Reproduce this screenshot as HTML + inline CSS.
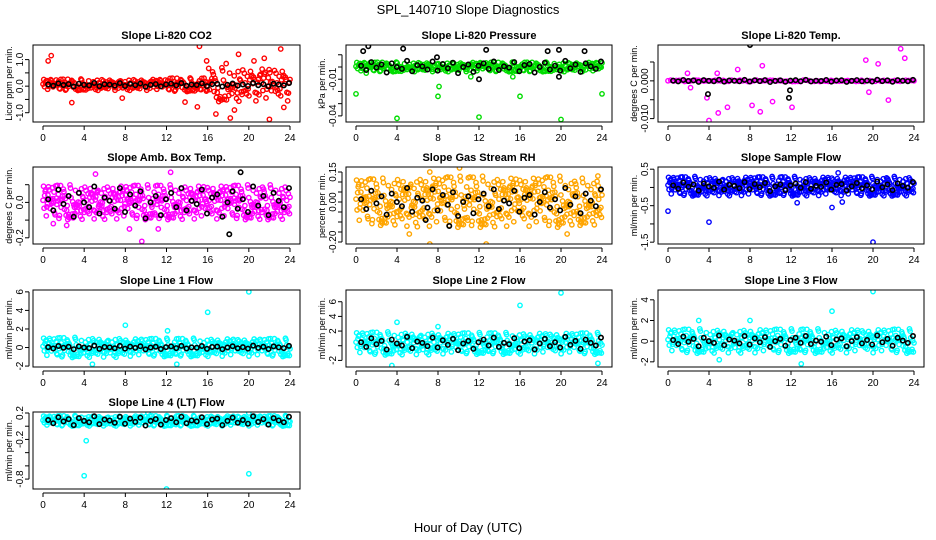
<!DOCTYPE html>
<html><head><meta charset="utf-8"><style>
body{margin:0;background:#fff;}
svg{display:block;font-family:"Liberation Sans",sans-serif;}
</style></head><body>
<svg id="chart" width="936" height="540" viewBox="0 0 936 540" xmlns="http://www.w3.org/2000/svg">
<rect width="936" height="540" fill="#fff"/>
<text x="468" y="14" text-anchor="middle" font-size="13">SPL_140710  Slope Diagnostics</text>
<text x="468" y="532" text-anchor="middle" font-size="13">Hour of Day (UTC)</text>
</svg>
<script>
// ---- data arrays ----
const xTicks = [0,4,8,12,16,20,24];
const panelTitles = ["Slope Li-820 CO2","Slope Li-820 Pressure","Slope Li-820 Temp.","Slope Amb. Box Temp.","Slope Gas Stream RH","Slope Sample Flow","Slope Line 1 Flow","Slope Line 2 Flow","Slope Line 3 Flow","Slope Line 4 (LT) Flow"];
const yLabels = ["Licor ppm per min.","kPa per min.","degrees C per min.","degrees C per min.","percent per min.","ml/min per min.","ml/min per min.","ml/min per min.","ml/min per min.","ml/min per min."];
const colors = ["#ff0000","#00dd00","#ff00ff","#ff00ff","#ffa500","#0000ff","#00ffff","#00ffff","#00ffff","#00ffff"];
const yRanges = [[-1.35,1.55],[-0.045,0.018],[-0.0109,0.0095],[-0.235,0.2],[-0.21,0.175],[-1.55,0.56],[-2.1,6.2],[-2.9,7.6],[-2.5,4.95],[-0.95,0.215]];
const yTickVals = [[-1,-0.5,0,0.5,1],[-0.04,-0.03,-0.02,-0.01,0,0.01],[-0.01,-0.005,0,0.005],[-0.2,-0.1,0,0.1],[-0.2,-0.15,-0.1,-0.05,0,0.05,0.1,0.15],[-1.5,-1,-0.5,0,0.5],[-2,0,2,4,6],[-2,0,2,4,6],[-2,0,2,4],[-0.8,-0.6,-0.4,-0.2,0,0.2]];
const yTickText = [["-1.0","","0.0","","1.0"],["-0.04","","","-0.01","",""],["-0.010","","0.000",""],["-0.2","","0.0",""],["-0.20","","","","0.00","","","0.15"],["-1.5","","-0.5","","0.5"],["-2","0","2","4","6"],["-2","","2","4","6"],["-2","0","2","4"],["-0.8","","","-0.2","","0.2"]];
const centers = [0.05,0,0,0,0,0.03,0,0.3,0,0.08];
// cloud half-width per 4-hour block
const spreads = [
 [0.22,0.22,0.22,0.26,0.65,0.65],[0.004,0.004,0.004,0.004,0.004,0.004],[0.0002,0.0002,0.0002,0.0002,0.0002,0.0002],
 [0.1,0.1,0.1,0.1,0.1,0.1],[0.12,0.13,0.13,0.13,0.13,0.12],[0.27,0.27,0.27,0.27,0.27,0.27],
 [1.1,1.1,1.0,1.0,1.0,1.0],[1.6,1.6,1.5,1.5,1.5,1.5],[1.2,1.2,1.2,1.2,1.2,1.2],[0.08,0.08,0.08,0.08,0.08,0.08]];
const densities = [320,300,90,450,450,450,380,380,380,380];
const blackScale = [0.07,0.005,0.0003,0.09,0.07,0.13,0.2,0.9,0.55,0.07];
const noise = [0.12,-0.45,0.78,-0.9,0.33,0.05,-0.62,0.91,-0.18,0.47,-0.74,0.26,-0.05,0.68,-0.33,-0.97,0.54,0.15,-0.41,0.83,
 -0.22,0.39,-0.81,0.07,0.95,-0.56,0.21,-0.12,0.63,-0.69,0.44,-0.28,0.86,-0.02,-0.51,0.72,-0.88,0.3,0.09,-0.37,
 0.58,-0.15,-0.76,0.99,-0.44,0.18,0.67,-0.6,0.02,-0.25,0.81,-0.93,0.36,0.11,-0.7,0.52,-0.08,0.27,-0.48,0.75,
 -0.31,0.93,-0.19,0.41,-0.84,0.14,0.6,-0.53,0.24,-0.02,0.88,-0.66,0.31,-0.39,0.49,-0.11,-0.79,0.7,0.04,-0.58,
 0.38,-0.23,0.96,-0.47,0.16,-0.87,0.55,0.22,-0.64,0.08,0.77,-0.34,-0.14,0.61,-0.73,0.29,0.45,-0.95,0.19,-0.27];
const blackNoise = [0.2,-0.5,0.8,-0.1,0.4,-0.9,0.6,0.0,-0.3,1.0,-0.7,0.3,0.1,-0.4,0.9,-0.6,0.5,-0.2,0.7,-1.0,
 0.0,0.4,-0.8,0.2,0.6,-0.3,0.9,-0.5,0.1,-0.1,0.8,-0.7,0.3,0.5,-0.9,0.0,0.7,-0.4,0.2,-0.6,1.0,-0.2,0.4,-0.8,0.6,0.1,-0.3,0.9];
const outliers = [
 [[0.5,0.95],[0.8,1.15],[15.2,1.5],[15.9,0.95],[23.1,1.4],[2.8,-0.62],[15,-0.78],[16.8,-1.05],[18.2,-1.2],[22,-1.25],[18.6,-0.9],[23.4,-0.8],[19,1.2],[21.5,1.05],[20.5,0.95],[17.8,0.85],[13.8,-0.6],[7.7,-0.45]],
 [[0,-0.022],[4,-0.042],[8,-0.024],[8.1,-0.016],[12,-0.041],[16,-0.024],[20,-0.043],[24,-0.022],[1,-0.005],[11.2,-0.008],[15.3,-0.008]],
 [[2.2,-0.0018],[3.8,-0.0045],[4,-0.0105],[4.9,-0.0085],[5.8,-0.007],[8.2,-0.0065],[9,-0.0082],[9.2,0.004],[10.2,-0.0055],[12.1,-0.007],[19.3,0.0055],[19.6,-0.003],[20.5,0.0045],[21.5,-0.0051],[22.7,0.0085],[23.1,0.006],[6.8,0.003],[4.8,0.002],[1.9,0.002]],
 [[9.6,-0.22],[11.2,-0.15],[8.4,-0.15],[5.1,0.16],[12.4,0.17],[1,-0.12],[2.3,-0.13]],
 [[7.2,-0.21],[12.7,-0.21],[10.1,0.17],[7.2,0.15],[5.2,-0.16],[20.6,-0.16],[23.6,0.13]],
 [[0,-0.65],[4,-0.95],[20,-1.5],[16,-0.55],[16.6,0.4],[12.6,-0.42],[17,-0.4]],
 [[20,6],[16,3.8],[8,2.4],[13,-1.8],[4.8,-1.8],[12.1,1.8]],
 [[20,7.2],[16,5.5],[4,3.2],[3.5,-2.7],[23.6,-2.4],[8,2.6]],
 [[20,4.8],[16,2.9],[13,-2.2],[3,2.0],[8,2.0],[5,-1.8]],
 [[4,-0.75],[12,-0.95],[20,-0.72],[4.2,-0.22],[10.2,0.2],[20,0.2]]];
const blackOutliers = [[],[[0.7,0.013],[1.2,0.017],[4.6,0.015],[7.9,0.008],[12.7,0.014],[18.7,0.013],[19.8,0.014],[22.3,0.013],[19.8,-0.008],[12,-0.01]],
 [[8,0.0095],[3.9,-0.0035],[11.8,-0.0045],[11.9,-0.0025]],[[19.2,0.17],[18.1,-0.18]],[[9.1,-0.12],[6.8,-0.09]],[],[],[],[],[]];

// ---- layout ----
const colX = [[33,300],[346,612],[658,924]];
const rowY = [[45,122],[167,244],[290,367],[412,489]];
const svg = document.getElementById('chart');
const NS = "http://www.w3.org/2000/svg";
function mk(tag, attrs, parent){const e=document.createElementNS(NS,tag);for(const k in attrs)e.setAttribute(k,attrs[k]);(parent||svg).appendChild(e);return e;}

panelTitles.forEach((title,p)=>{
  const col=p%3,row=Math.floor(p/3);
  const [L,R]=colX[col],[T,B]=rowY[row];
  const g=mk('g',{});
  
  
  const xs=h=>L+10+(R-L-20)*h/24;
  const [y0,y1]=yRanges[p];
  const ys=v=>B-(v-y0)/(y1-y0)*(B-T);
  const t=mk('text',{x:(L+R)/2,y:T-6,'text-anchor':'middle','font-size':11,'font-weight':'bold'},g);t.textContent=title;
  
  
  const yl=mk('text',{transform:`translate(${L-21},${(T+B)/2}) rotate(-90)`,'text-anchor':'middle','font-size':9},g);yl.textContent=yLabels[p];
  
  
  mk('line',{x1:xs(0),x2:xs(24),y1:B+4,y2:B+4,stroke:'#000'},g);
  xTicks.forEach(v=>{mk('line',{x1:xs(v),x2:xs(v),y1:B+4,y2:B+8,stroke:'#000'},g);
    const tx=mk('text',{x:xs(v),y:B+19,'text-anchor':'middle','font-size':10},g);tx.textContent=v;
    
    });
  const tv=yTickVals[p];
  mk('line',{x1:L-4,x2:L-4,y1:ys(tv[0]),y2:ys(tv[tv.length-1]),stroke:'#000'},g);
  tv.forEach((v,i)=>{mk('line',{x1:L-8,x2:L-4,y1:ys(v),y2:ys(v),stroke:'#000'},g);
    if(yTickText[p][i]){const ty=mk('text',{transform:`translate(${L-10},${ys(v)}) rotate(-90)`,'text-anchor':'middle','font-size':10},g);ty.textContent=yTickText[p][i];
    
    }});
  const cid='c'+p;const cp=mk('clipPath',{id:cid},g);mk('rect',{x:L,y:T,width:R-L,height:B-T},cp);
  const pts=mk('g',{'clip-path':`url(#${cid})`,fill:'none','stroke-width':1.4},g);
  const N=densities[p];
  for(let j=0;j<N;j++){
    const h=24*j/(N-1);const blk=Math.min(5,Math.floor(h/4));
    const v=centers[p]+spreads[p][blk]*noise[(j*7+Math.floor(j/100)*13)%noise.length];
    const c=mk('circle',{cx:xs(h),cy:ys(v),r:2.2,stroke:colors[p]},pts);
    
    
  }
  outliers[p].forEach(o=>{const c=mk('circle',{cx:xs(o[0]),cy:ys(o[1]),r:2.2,stroke:colors[p]},pts);
    
    });
  blackNoise.forEach((b,i)=>{const h=0.5+23.4*i/(blackNoise.length-1);
    const c=mk('circle',{cx:xs(h),cy:ys(centers[p]+blackScale[p]*b),r:2.2,stroke:'#000','stroke-width':1.6},pts);
    
    });
  blackOutliers[p].forEach(o=>{const c=mk('circle',{cx:xs(o[0]),cy:ys(o[1]),r:2.2,stroke:'#000','stroke-width':1.6},pts);
    
    });
  mk('rect',{x:L,y:T,width:R-L,height:B-T,fill:'none',stroke:'#000'},g);
});
</script>
</body></html>
